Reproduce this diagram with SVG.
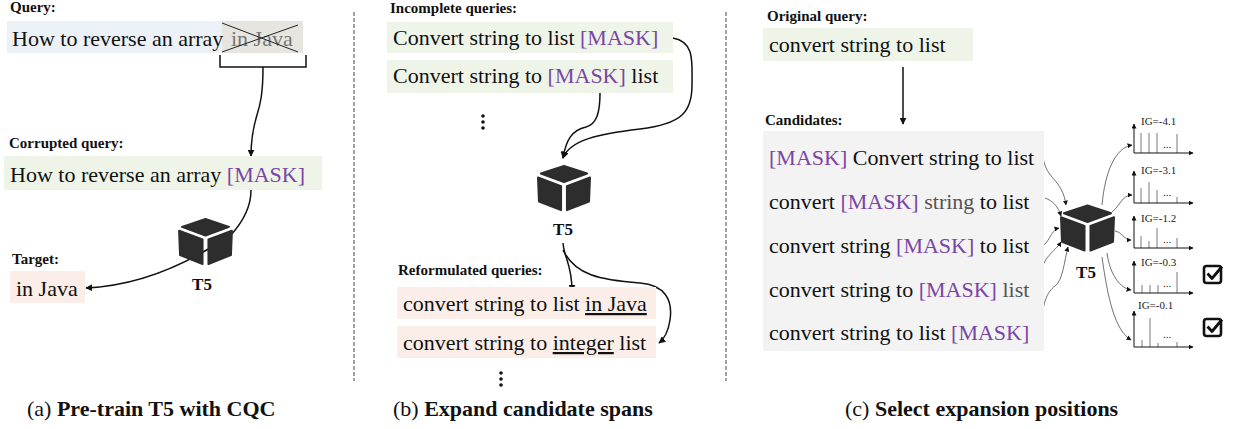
<svg xmlns="http://www.w3.org/2000/svg" width="1234" height="429" viewBox="0 0 1234 429">
<style>
.t{font-family:"Liberation Serif","Times New Roman",serif;font-size:22px;fill:#111}
.m{fill:#7b45a6}
.g{fill:#777}
.g2{fill:#555}
.lbl{font-family:"Liberation Serif","Times New Roman",serif;font-size:15px;font-weight:bold;fill:#111}
.cap{font-family:"Liberation Serif","Times New Roman",serif;font-size:22px;fill:#111}
.b{font-weight:bold}
.t5{font-family:"Liberation Serif","Times New Roman",serif;font-size:17px;font-weight:bold;fill:#111;text-anchor:middle}
.ig{font-family:"Liberation Serif","Times New Roman",serif;font-size:11px;fill:#222}
.con{fill:none;stroke:#111;stroke-width:1.5}
.thin{fill:none;stroke:#333;stroke-width:0.7}
.axis{fill:none;stroke:#111;stroke-width:1}
.bar{stroke:#999;stroke-width:1.3}
.dash{stroke:#444;stroke-width:1;stroke-dasharray:4 2}
.green{fill:#eef5e8}
.blue{fill:#ecf1f8}
.pink{fill:#fbeee8}
.ul{text-decoration:underline}
</style>
<defs>
<marker id="ah" viewBox="0 0 10 10" refX="9" refY="5" markerWidth="7" markerHeight="7" markerUnits="userSpaceOnUse" orient="auto">
<path d="M0,0 L10,5 L0,10 Z" fill="#111"/>
</marker>
<marker id="ahs" viewBox="0 0 10 10" refX="9" refY="5" markerWidth="5" markerHeight="5" markerUnits="userSpaceOnUse" orient="auto">
<path d="M0,0 L10,5 L0,10 Z" fill="#111"/>
</marker>
<symbol id="cube" viewBox="0 0 56 48">
<g fill="#2d2d2d" stroke="#2d2d2d" stroke-width="2" stroke-linejoin="round">
<path d="M28,1 L52,9 L28,18 L4,9 Z"/>
<path d="M1,13 L25,22 L25,47 L2,38 Z"/>
<path d="M31,22 L55,13 L54,38 L31,47 Z"/>
</g>
</symbol>
</defs>
<rect width="1234" height="429" fill="#ffffff"/>

<!-- separators -->
<line class="dash" x1="354" y1="12" x2="354" y2="381"/>
<line class="dash" x1="726" y1="12" x2="726" y2="381"/>

<!-- connectors -->
<g id="connectors">
<!-- panel a -->
<path class="con" d="M220,55 V67 H306 V55"/>
<path class="con" d="M263,67 C263,95 260,105 257,115 C253,128 251,140 251,156" marker-end="url(#ah)"/>
<path class="con" d="M251,190 C251,208 243,222 230,236"/>
<path class="con" d="M210,248 C170,272 130,286 86,288" marker-end="url(#ah)"/>
<!-- panel b -->
<path class="con" d="M673,38 C695,42 692,62 692,85 C692,112 682,124 640,129 C598,134 570,140 563,158" marker-end="url(#ah)"/>
<path class="con" d="M600,93 C600,112 597,124 586,127 C572,130 566,140 563,158" marker-end="url(#ah)"/>
<path class="con" d="M563,243 C564,258 572,264 572,291" marker-end="url(#ah)"/>
<path class="con" d="M563,250 C575,275 600,280 640,283 C665,285 673,300 670,320 C668,333 664,339 659,343" marker-end="url(#ah)"/>
<!-- panel c -->
<path class="con" d="M903,67 V124" marker-end="url(#ah)"/>
<path class="thin" d="M1043,157 C1046,180 1062,178 1066,205" marker-end="url(#ahs)"/>
<path class="thin" d="M1045,198 C1053,201 1058,206 1061,216" marker-end="url(#ahs)"/>
<path class="thin" d="M1040,246 C1049,246 1050,230 1059,228" marker-end="url(#ahs)"/>
<path class="thin" d="M1040,278 C1042,256 1055,252 1061,242" marker-end="url(#ahs)"/>
<path class="thin" d="M1040,336 C1042,302 1047,292 1055,286 C1063,280 1064,262 1068,247" marker-end="url(#ahs)"/>
<path class="thin" d="M1102,205 C1105,172 1115,148 1132,145" marker-end="url(#ahs)"/>
<path class="thin" d="M1112,212 C1120,206 1122,195 1132,195" marker-end="url(#ahs)"/>
<path class="thin" d="M1115,231 C1122,232 1124,240 1131,240" marker-end="url(#ahs)"/>
<path class="thin" d="M1107,253 C1110,275 1120,288 1131,290" marker-end="url(#ahs)"/>
<path class="thin" d="M1102,257 C1108,300 1115,330 1131,340" marker-end="url(#ahs)"/>
</g>

<!-- Panel (a) -->
<g id="a-query">
<text class="lbl" x="10" y="12">Query:</text>
<rect class="blue" x="7" y="21" width="215" height="32"/>
<rect x="222" y="21" width="81" height="32" fill="#e7e5df"/>
<text class="t" x="12" y="46">How to reverse an array<tspan class="g" x="231">in Java</tspan></text>
<path d="M222,23 L298,52 M222,52 L298,25" stroke="#222" stroke-width="1"/>
</g>
<g id="a-corrupted">
<text class="lbl" x="9" y="148">Corrupted query:</text>
<rect class="green" x="4" y="156" width="318" height="34"/>
<text class="t" x="10" y="182">How to reverse an array <tspan class="m">[MASK]</tspan></text>
</g>
<g id="a-t5">
<use href="#cube" x="178" y="218" width="55" height="47"/>
<text class="t5" x="202" y="290">T5</text>
</g>
<g id="a-target">
<text class="lbl" x="12" y="264">Target:</text>
<rect class="pink" x="10" y="271" width="75" height="32"/>
<text class="t" x="16" y="296">in Java</text>
</g>
<text class="cap" x="27" y="416">(a) <tspan class="b">Pre-train T5 with CQC</tspan></text>

<!-- Panel (b) -->
<g id="b-incomplete">
<text class="lbl" x="390" y="13">Incomplete queries:</text>
<rect class="green" x="387" y="22" width="286" height="31"/>
<text class="t" x="393" y="45">Convert string to list <tspan class="m">[MASK]</tspan></text>
<rect class="green" x="387" y="60" width="286" height="33"/>
<text class="t" x="393" y="83">Convert string to <tspan class="m">[MASK]</tspan> list</text>
<circle cx="483" cy="116" r="1.8" fill="#111"/>
<circle cx="483" cy="122" r="1.8" fill="#111"/>
<circle cx="483" cy="128" r="1.8" fill="#111"/>
</g>
<g id="b-t5">
<use href="#cube" x="537" y="163" width="54" height="50"/>
<text class="t5" x="563" y="235">T5</text>
</g>
<g id="b-reformulated">
<text class="lbl" x="398" y="275">Reformulated queries:</text>
<rect class="pink" x="397" y="287" width="259" height="32"/>
<text class="t" x="403" y="311">convert string to list <tspan class="ul">in Java</tspan></text>
<rect class="pink" x="397" y="326" width="259" height="32"/>
<text class="t" x="403" y="350">convert string to <tspan class="ul">integer</tspan> list</text>
<circle cx="501" cy="373" r="1.8" fill="#111"/>
<circle cx="501" cy="379" r="1.8" fill="#111"/>
<circle cx="501" cy="385" r="1.8" fill="#111"/>
</g>
<text class="cap" x="393" y="416">(b) <tspan class="b">Expand candidate spans</tspan></text>

<!-- Panel (c) -->
<g id="c-original">
<text class="lbl" x="767" y="21">Original query:</text>
<rect class="green" x="763" y="28" width="210" height="33"/>
<text class="t" x="769" y="52">convert string to list</text>
</g>
<g id="c-candidates">
<text class="lbl" x="765" y="125">Candidates:</text>
<rect x="763" y="131" width="281" height="220" fill="#f3f3f3"/>
<text class="t" x="769" y="165"><tspan class="m">[MASK]</tspan> Convert string to list</text>
<text class="t" x="769" y="209">convert <tspan class="m">[MASK]</tspan> <tspan class="g2">string</tspan> to list</text>
<text class="t" x="769" y="253">convert string <tspan class="m">[MASK]</tspan> to list</text>
<text class="t" x="769" y="297">convert string to <tspan class="m">[MASK]</tspan> <tspan class="g2">list</tspan></text>
<text class="t" x="769" y="340">convert string to list <tspan class="m">[MASK]</tspan></text>
</g>
<g id="c-t5">
<use href="#cube" x="1060" y="203" width="55" height="50"/>
<text class="t5" x="1086" y="278">T5</text>
</g>
<g id="chart1">
<text class="ig" x="1141" y="125">IG=-4.1</text>
<line class="bar" x1="1141" y1="153" x2="1141" y2="133"/>
<line class="bar" x1="1149" y1="153" x2="1149" y2="133"/>
<line class="bar" x1="1157" y1="153" x2="1157" y2="133"/>
<line class="bar" x1="1177" y1="153" x2="1177" y2="134"/>
<text class="ig" x="1163" y="148" font-size="9">...</text>
<path class="axis" d="M1134,153 V124" marker-end="url(#ahs)"/>
<path class="axis" d="M1134,153 H1193" marker-end="url(#ahs)"/>
</g>
<g id="chart2">
<text class="ig" x="1141" y="174">IG=-3.1</text>
<line class="bar" x1="1141" y1="203" x2="1141" y2="188"/>
<line class="bar" x1="1149" y1="203" x2="1149" y2="182"/>
<line class="bar" x1="1157" y1="203" x2="1157" y2="190"/>
<line class="bar" x1="1177" y1="203" x2="1177" y2="197"/>
<text class="ig" x="1163" y="196" font-size="9">...</text>
<path class="axis" d="M1134,203 V171" marker-end="url(#ahs)"/>
<path class="axis" d="M1134,203 H1193" marker-end="url(#ahs)"/>
</g>
<g id="chart3">
<text class="ig" x="1141" y="222">IG=-1.2</text>
<line class="bar" x1="1141" y1="248" x2="1141" y2="236"/>
<line class="bar" x1="1149" y1="248" x2="1149" y2="241"/>
<line class="bar" x1="1157" y1="248" x2="1157" y2="228"/>
<line class="bar" x1="1177" y1="248" x2="1177" y2="238"/>
<text class="ig" x="1163" y="243" font-size="9">...</text>
<path class="axis" d="M1134,248 V216" marker-end="url(#ahs)"/>
<path class="axis" d="M1134,248 H1193" marker-end="url(#ahs)"/>
</g>
<g id="chart4">
<text class="ig" x="1141" y="266">IG=-0.3</text>
<line class="bar" x1="1142" y1="293" x2="1142" y2="285"/>
<line class="bar" x1="1150" y1="293" x2="1150" y2="285"/>
<line class="bar" x1="1158" y1="293" x2="1158" y2="285"/>
<line class="bar" x1="1177" y1="293" x2="1177" y2="272"/>
<text class="ig" x="1163" y="287" font-size="9">...</text>
<path class="axis" d="M1134,293 V261" marker-end="url(#ahs)"/>
<path class="axis" d="M1134,293 H1193" marker-end="url(#ahs)"/>
</g>
<g id="chart5">
<text class="ig" x="1138" y="309">IG=-0.1</text>
<line class="bar" x1="1142" y1="347" x2="1142" y2="340"/>
<line class="bar" x1="1150" y1="347" x2="1150" y2="318"/>
<line class="bar" x1="1158" y1="347" x2="1158" y2="343"/>
<line class="bar" x1="1177" y1="347" x2="1177" y2="342"/>
<text class="ig" x="1163" y="338" font-size="9">...</text>
<path class="axis" d="M1134,347 V311" marker-end="url(#ahs)"/>
<path class="axis" d="M1134,347 H1193" marker-end="url(#ahs)"/>
</g>
<g id="check1">
<rect x="1204" y="266" width="17" height="17" rx="2.5" fill="none" stroke="#111" stroke-width="2.6"/>
<path d="M1207.5,273.5 L1212,278.5 L1222,266.5" fill="none" stroke="#111" stroke-width="2.8" stroke-linejoin="round"/>
</g>
<g id="check2">
<rect x="1204" y="319" width="17" height="17" rx="2.5" fill="none" stroke="#111" stroke-width="2.6"/>
<path d="M1207.5,326.5 L1212,331.5 L1222,319.5" fill="none" stroke="#111" stroke-width="2.8" stroke-linejoin="round"/>
</g>
<text class="cap" x="845" y="416">(c) <tspan class="b">Select expansion positions</tspan></text>
</svg>
